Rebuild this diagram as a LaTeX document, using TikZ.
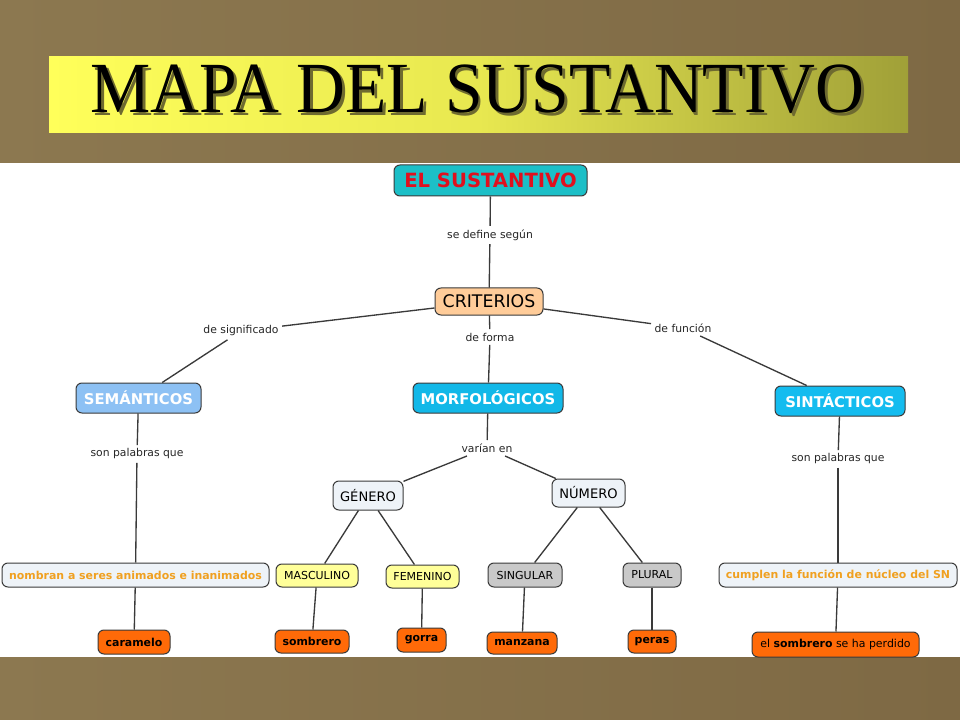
\documentclass[tikz,border=0pt]{standalone}
\usepackage{fontspec}
\setmainfont{DejaVu Sans}
\newfontfamily\titlefont{Liberation Serif}
\usetikzlibrary{calc}
\definecolor{bgbrownL}{HTML}{8C7850}
\definecolor{bgbrownD}{HTML}{7E6944}
\definecolor{tealbox}{HTML}{1CBFC7}
\definecolor{redtxt}{HTML}{E0101E}
\definecolor{peach}{HTML}{FFCC99}
\definecolor{semblue}{HTML}{8DC1F4}
\definecolor{morfblue}{HTML}{12B8E8}
\definecolor{sintblue}{HTML}{14BCEF}
\definecolor{paleblue}{HTML}{EEF3F8}
\definecolor{paleyel}{HTML}{FFFF99}
\definecolor{greybox}{HTML}{C9C9C9}
\definecolor{orangebox}{HTML}{FF6A08}
\definecolor{orangetxt}{HTML}{F0A020}
\definecolor{linec}{HTML}{3A3A3A}
\definecolor{tshadow}{HTML}{6E6A30}
\tikzset{
  sz/.style 2 args={minimum width=#1*0.75pt, minimum height=#2*0.75pt},
  cbox/.style={draw=linec, line width=0.75pt, rounded corners=4.5pt, inner sep=0pt, align=center},
  lbl/.style={font=\fontsize{8.1}{9}\selectfont, text=black!85, inner sep=2.5pt},
  conn/.style={draw=linec, line width=1pt},
  head/.style={cbox, font=\bfseries\fontsize{11.1}{13}\selectfont, text=white},
  mid/.style={cbox, fill=paleblue, font=\fontsize{9.8}{12}\selectfont},
  small/.style={cbox, font=\fontsize{8.25}{10}\selectfont},
  leaf/.style={cbox, fill=orangebox, font=\bfseries\fontsize{8.2}{10}\selectfont},
  desc/.style={cbox, fill=paleblue, text=orangetxt, font=\bfseries\fontsize{8.2}{10}\selectfont},
}
\newcommand{\titletext}{MAPA DEL SUSTANTIVO}
\begin{document}
\begin{tikzpicture}[x=0.75pt,y=-0.75pt]
\useasboundingbox (0,0) rectangle (960,720);
% backgrounds
\shade[left color=bgbrownL, right color=bgbrownD] (0,0) rectangle (960,163);
\fill[white] (0,163) rectangle (960,657);
\shade[left color=bgbrownL, right color=bgbrownD] (0,657) rectangle (960,720);
% title band
\shade[left color={rgb,255:red,255;green,255;blue,90}, right color={rgb,255:red,160;green,160;blue,56}, middle color={rgb,255:red,232;green,232;blue,80}] (49,57) rectangle (908,133);
\node[anchor=base, inner sep=0pt] (title) at (477.5,112.5) {\titlefont\fontsize{54}{60}\selectfont\scalebox{0.94}[1]{\makebox[0pt][l]{\hspace{2.2pt}\raisebox{-2.2pt}{\color{tshadow}\titletext}}\titletext}};
% nodes
\node[cbox, sz={193}{31}, fill=tealbox, text=redtxt, font=\bfseries\fontsize{14.7}{17}\selectfont] (top) at (490.5,180.5) {EL SUSTANTIVO};
\node[cbox, sz={108}{27}, fill=peach, font=\fontsize{13}{15}\selectfont] (crit) at (489,301.5) {CRITERIOS};
\node[head, sz={125}{30}, fill=semblue] (sem) at (138.5,398) {SEMÁNTICOS};
\node[head, sz={150}{30}, fill=morfblue] (morf) at (488,398) {MORFOLÓGICOS};
\node[head, sz={130}{30}, fill=sintblue] (sint) at (840,401) {SINTÁCTICOS};
\node[mid, sz={70}{29}] (gen) at (368,495.5) {GÉNERO};
\node[mid, sz={73}{28}] (num) at (588.5,493) {NÚMERO};
\node[desc, sz={267}{24}] (nomb) at (135.5,575) {nombran a seres animados e inanimados};
\node[small, sz={82}{23}, fill=paleyel] (masc) at (317,575.5) {MASCULINO};
\node[small, sz={73}{23}, fill=paleyel] (fem) at (422.5,576.5) {FEMENINO};
\node[small, sz={74}{24}, fill=greybox] (sing) at (525,575) {SINGULAR};
\node[small, sz={58}{24}, fill=greybox] (plur) at (652,575) {PLURAL};
\node[desc, sz={238}{24}] (cump) at (838,575) {cumplen la función de núcleo del SN};
\node[leaf, sz={72}{24}] (car) at (134,642) {caramelo};
\node[leaf, sz={74}{23}] (som) at (312,641.5) {sombrero};
\node[leaf, sz={49}{24}] (gor) at (421.5,640) {gorra};
\node[leaf, sz={70}{22}] (man) at (522,643) {manzana};
\node[leaf, sz={48}{23}] (per) at (652,641.5) {peras};
\node[cbox, sz={167}{25}, fill=orangebox, font=\fontsize{8.2}{10}\selectfont] (elsom) at (835.5,644.5) {el \textbf{sombrero} se ha perdido};
% labels
\node[lbl] (l1) at (490,235) {se define según};
\node[lbl] (l2) at (241,331) {de significado};
\node[lbl] (l3) at (490,337) {de forma};
\node[lbl] (l4) at (683,328) {de función};
\node[lbl] (l5) at (137,454) {son palabras que};
\node[lbl] (l6) at (487,448) {varían en};
\node[lbl] (l7) at (838,459) {son palabras que};
% connectors
\draw[conn] (top) -- (l1);
\draw[conn] (l1) -- (crit);
\draw[conn] (crit) -- (l2);
\draw[conn] (l2) -- (sem);
\draw[conn] (crit) -- (l3);
\draw[conn] (l3) -- (morf);
\draw[conn] (crit) -- (l4);
\draw[conn] (l4) -- (sint);
\draw[conn] (sem) -- (l5);
\draw[conn] (l5) -- (nomb);
\draw[conn] (nomb) -- (car);
\draw[conn] (morf) -- (l6);
\draw[conn] (l6) -- (gen);
\draw[conn] (l6) -- (num);
\draw[conn] (gen) -- (masc);
\draw[conn] (gen) -- (fem);
\draw[conn] (num) -- (sing);
\draw[conn] (num) -- (plur);
\draw[conn] (masc) -- (som);
\draw[conn] (fem) -- (gor);
\draw[conn] (sing) -- (man);
\draw[conn] (plur) -- (per);
\draw[conn] (sint) -- (l7);
\draw[conn] (l7) -- (cump);
\draw[conn] (cump) -- (elsom);
\end{tikzpicture}
\end{document}
